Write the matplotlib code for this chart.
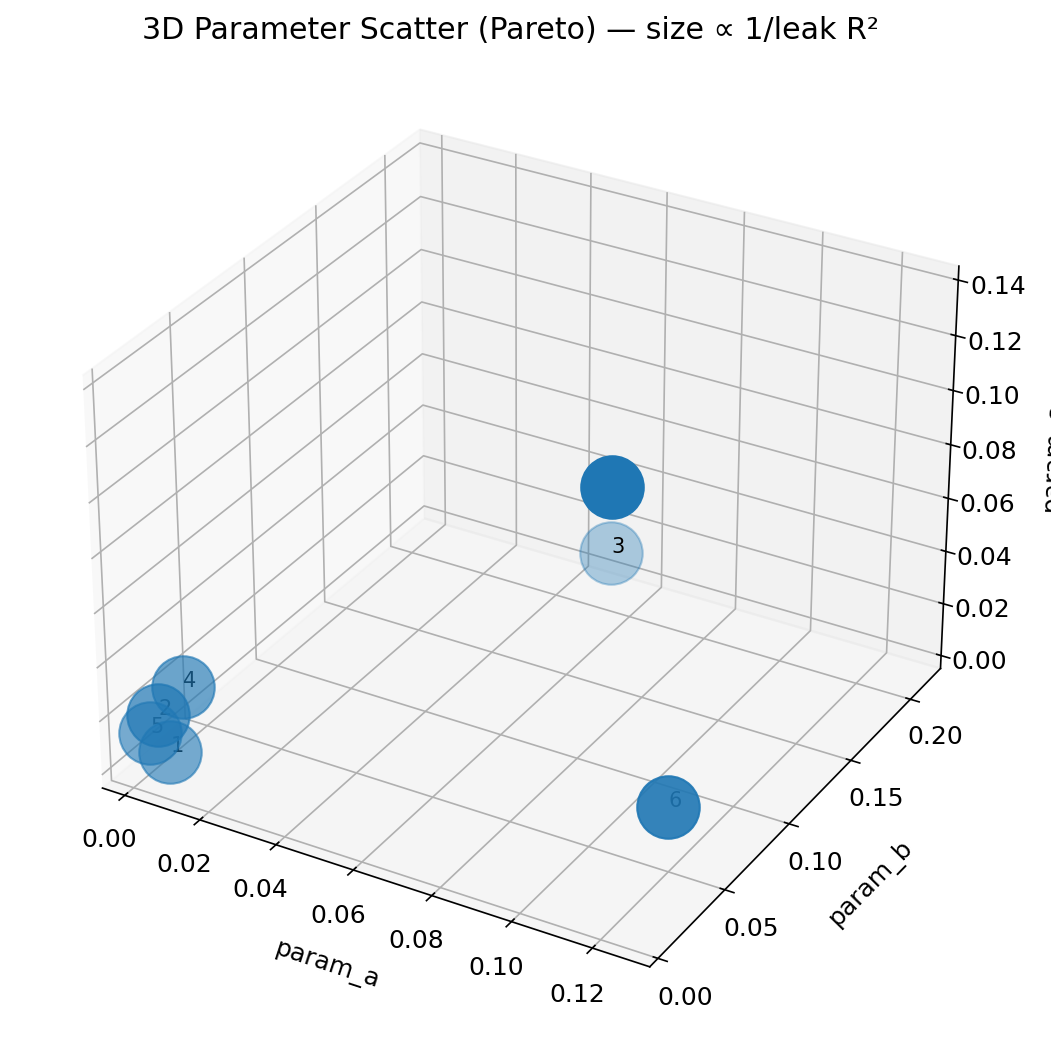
import matplotlib
matplotlib.use("Agg")
import matplotlib.pyplot as plt

labels = ["0", "1", "2", "3", "4", "5", "6"]
param_a = [0.065, 0.002, 0.0, 0.065, 0.002, 0.0, 0.11]
param_b = [0.17, 0.02, 0.018, 0.17, 0.03, 0.012, 0.08]
param_c = [0.06, 0.0, 0.014, 0.035, 0.02, 0.01, 0.0]
alphas = [1.0, 0.6, 0.7, 0.35, 0.65, 0.6, 0.9]

plt.rcParams["font.size"] = 12
fig = plt.figure(figsize=(1051/150, 1059/150), dpi=150)
ax = fig.add_axes([0.026, 0.029, 0.93, 0.92], projection="3d")
for i in range(len(labels)):
    ax.scatter(param_a[i], param_b[i], param_c[i], s=900, color="#1f77b4", alpha=alphas[i])
    ax.text(param_a[i], param_b[i], param_c[i], labels[i], fontsize=10)
ax.set_xlim(-0.006, 0.134)
ax.set_ylim(-0.006, 0.226)
ax.set_zlim(-0.005, 0.145)
ax.set_xticks([0, 0.02, 0.04, 0.06, 0.08, 0.10, 0.12])
ax.set_yticks([0, 0.05, 0.10, 0.15, 0.20])
ax.set_xlabel("param_a", labelpad=10)
ax.set_ylabel("param_b", labelpad=10)
ax.set_zlabel("param_c", labelpad=10)
fig.suptitle("3D Parameter Scatter (Pareto) — size ∝ 1/leak R²", x=0.486, y=0.985, fontsize=14.4)
fig.savefig("out.png", dpi=150)
